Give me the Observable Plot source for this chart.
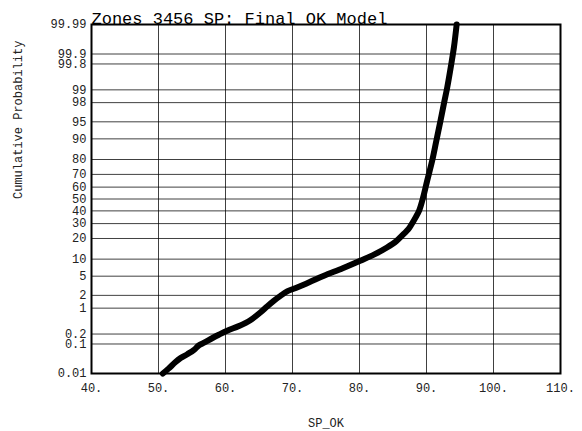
<!DOCTYPE html>
<html>
<head>
<meta charset="utf-8">
<script src="https://cdn.jsdelivr.net/npm/d3@7"></script>
<script src="https://cdn.jsdelivr.net/npm/@observablehq/plot@0.6"></script>
<style>
  html, body { margin: 0; padding: 0; background: #fff; }
</style>
</head>
<body>
<div id="chart"></div>
<script>
// SP_OK values and cumulative probability (%)
const spOk = [50.65, 51.5, 52.5, 53.3, 54.3, 55.3, 56.0, 56.8, 58.0, 59.0, 60.25, 62.0, 63.7, 65.2, 66.2, 67.2, 68.2, 69.2, 70.5, 72.5, 74.7, 77.5, 80.1, 82.3, 84.1, 85.5, 86.6, 87.3, 87.8, 88.4, 88.9, 89.5, 90.1, 90.85, 91.45, 92.1, 92.63, 93.1, 93.7, 94.1, 94.5];
const cumProb = [0.01, 0.015, 0.025, 0.035, 0.047, 0.065, 0.09, 0.11, 0.15, 0.19, 0.25, 0.34, 0.49, 0.78, 1.1, 1.5, 1.95, 2.44, 2.9, 3.8, 5.1, 7.0, 9.4, 12, 15.1, 18.5, 22.8, 26, 29.7, 35, 40.2, 51.4, 65.2, 79.3, 89, 95.3, 98, 99.14, 99.8, 99.94, 99.99];

const yTickValues = [0.01, 0.1, 0.2, 1, 2, 5, 10, 20, 30, 40, 50, 60, 70, 80, 90, 95, 98, 99, 99.8, 99.9, 99.99];
const yTickLabels = ["0.01", "0.1", "0.2", "1", "2", "5", "10", "20", "30", "40", "50", "60", "70", "80", "90", "95", "98", "99", "99.8", "99.9", "99.99"];
const xTickValues = [40, 50, 60, 70, 80, 90, 100, 110];
const xTickLabels = ["40.", "50.", "60.", "70.", "80.", "90.", "100.", "110."];

const titleText = "Zones 3456 SP: Final OK Model";
const xLabel = "SP_OK";
const yLabel = "Cumulative Probability";

// inverse standard normal CDF (Acklam's approximation)
function probit(p) {
  const a = [-3.969683028665376e+01, 2.209460984245205e+02, -2.759285104469687e+02, 1.383577518672690e+02, -3.066479806614716e+01, 2.506628277459239e+00];
  const b = [-5.447609879822406e+01, 1.615858368580409e+02, -1.556989798598866e+02, 6.680131188771972e+01, -1.328068155288572e+01];
  const c = [-7.784894002430293e-03, -3.223964580411365e-01, -2.400758277161838e+00, -2.549732539343734e+00, 4.374664141464968e+00, 2.938163982698783e+00];
  const d = [7.784695709041462e-03, 3.224671290700398e-01, 2.445134137142996e+00, 3.754408661907416e+00];
  const pl = 0.02425, ph = 1 - pl;
  let q, r;
  if (p < pl) {
    q = Math.sqrt(-2 * Math.log(p));
    return (((((c[0]*q+c[1])*q+c[2])*q+c[3])*q+c[4])*q+c[5]) / ((((d[0]*q+d[1])*q+d[2])*q+d[3])*q+1);
  } else if (p <= ph) {
    q = p - 0.5; r = q * q;
    return (((((a[0]*r+a[1])*r+a[2])*r+a[3])*r+a[4])*r+a[5])*q / (((((b[0]*r+b[1])*r+b[2])*r+b[3])*r+b[4])*r+1);
  } else {
    q = Math.sqrt(-2 * Math.log(1 - p));
    return -(((((c[0]*q+c[1])*q+c[2])*q+c[3])*q+c[4])*q+c[5]) / ((((d[0]*q+d[1])*q+d[2])*q+d[3])*q+1);
  }
}

const data = spOk.map((x, i) => ({x, z: probit(cumProb[i] / 100)}));
const yTicksZ = yTickValues.map(v => probit(v / 100));
const yLabelMap = new Map(yTicksZ.map((z, i) => [z, yTickLabels[i]]));
const xLabelMap = new Map(xTickValues.map((v, i) => [v, xTickLabels[i]]));

const font = "'Liberation Mono', 'Courier New', monospace";

const chart = Plot.plot({
  width: 582,
  height: 431,
  marginTop: 24,
  marginBottom: 58,
  marginLeft: 91,
  marginRight: 22,
  style: {fontFamily: font, fontSize: "12px", background: "#fff", color: "#222"},
  x: {domain: [40, 110]},
  y: {domain: [probit(0.0001), probit(0.9999)]},
  marks: [
    Plot.ruleX(xTickValues, {stroke: "#000", strokeOpacity: 0.75, strokeWidth: 1}),
    Plot.ruleY(yTicksZ, {stroke: "#000", strokeOpacity: 0.75, strokeWidth: 1}),
    Plot.axisX({ticks: xTickValues, tickFormat: d => xLabelMap.get(d), tickSize: 0, tickPadding: 10, label: null, fontSize: 12}),
    Plot.axisY({ticks: yTicksZ, tickFormat: d => yLabelMap.get(d), tickSize: 0, tickPadding: 5, label: null, fontSize: 12}),
    Plot.frame({stroke: "#000", strokeWidth: 2}),
    Plot.line(data, {x: "x", y: "z", stroke: "#000", strokeWidth: 6, strokeLinecap: "round", strokeLinejoin: "round", curve: "catmull-rom"}),
    Plot.text([titleText], {frameAnchor: "top-left", dy: -1, lineAnchor: "bottom", textAnchor: "start", fontSize: 17, fill: "#000"}),
    Plot.text([xLabel], {frameAnchor: "bottom", dy: 50, lineAnchor: "middle", fontSize: 12, fill: "#222"}),
    Plot.text([yLabel], {frameAnchor: "left", dx: -73, rotate: -90, lineAnchor: "middle", fontSize: 12, fill: "#222"})
  ]
});
document.getElementById("chart").appendChild(chart);
</script>
</body>
</html>
